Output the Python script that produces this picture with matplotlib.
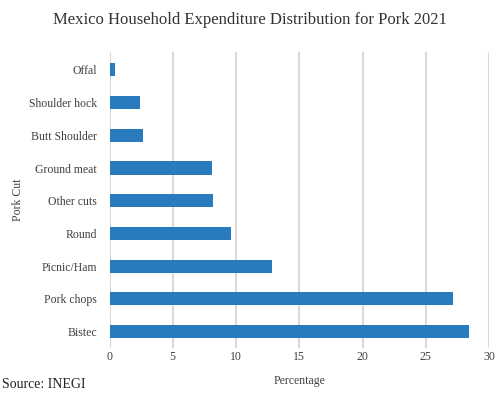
import matplotlib.pyplot as plt

# Pork cut expenditure shares, Mexico 2021 (percent)
cuts = ["Bistec", "Pork chops", "Picnic/Ham", "Round", "Other cuts",
        "Ground meat", "Butt Shoulder", "Shoulder hock", "Offal"]
shares = [28.44, 27.14, 12.87, 9.6, 8.17, 8.09, 2.68, 2.41, 0.41]
xticks = [0, 5, 10, 15, 20, 25, 30]

plt.rcParams['font.family'] = ['Liberation Serif', 'DejaVu Serif']

fig = plt.figure(figsize=(5, 3.99), dpi=100)
ax = fig.add_axes([0.219, 0.128, 0.759, 0.742])

ax.barh(cuts, shares, height=0.4, color="#2a7bbd", zorder=3)

ax.set_xlim(0, 30)
ax.set_ylim(-0.5, 8.55)
ax.set_xticks(xticks)
ax.grid(axis="x", color="#d9d9d9", linewidth=1.5, zorder=0)
for s in ax.spines.values():
    s.set_visible(False)
ax.tick_params(length=0, labelsize=8.5, colors="#404040")
ax.tick_params(axis="x", pad=2)
ax.tick_params(axis="y", pad=9)

ax.set_xlabel("Percentage", fontsize=8.5, color="#404040", labelpad=9)
ax.set_ylabel("Pork Cut", fontsize=8.5, color="#404040", labelpad=0)
ax.yaxis.set_label_coords(-0.225, 0.5)
fig.suptitle("Mexico Household Expenditure Distribution for Pork 2021",
             fontsize=12, color="#333333", y=0.97)
fig.text(0.004, 0.028, "Source: INEGI", fontsize=10, color="#222222")

fig.savefig("out.png", dpi=100)
